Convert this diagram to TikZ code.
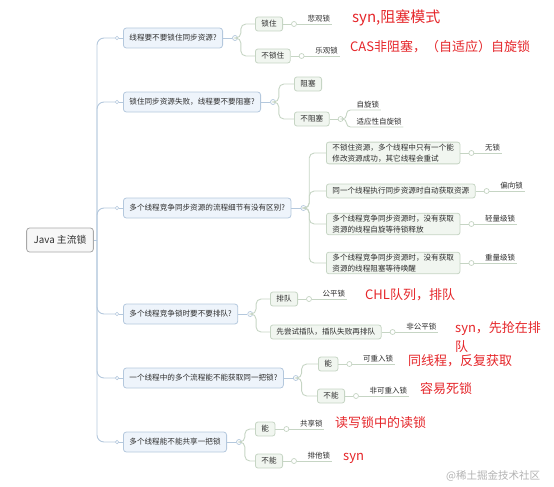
\documentclass[tikz,border=0pt]{standalone}
\usepackage{fontspec}
\setmainfont{Noto Sans CJK SC}
\usetikzlibrary{positioning}
\definecolor{qfill}{HTML}{EEF4FB}
\definecolor{qline}{HTML}{B4C8DD}
\definecolor{afill}{HTML}{F1F6F0}
\definecolor{aline}{HTML}{C6D5C4}
\definecolor{rootline}{HTML}{A8A8A8}
\definecolor{txt}{HTML}{2E2E2E}
\definecolor{notered}{HTML}{E5262A}
\tikzset{
  rootbox/.style={draw=rootline, fill=black!3, rounded corners=3pt, line width=0.8pt,
    minimum height=24pt, inner xsep=7pt, text=txt, font=\fontsize{9.8}{11}\selectfont},
  qbox/.style={draw=qline, fill=qfill, rounded corners=3pt, anchor=west, line width=0.8pt,
    minimum height=20pt, inner xsep=6pt, text=txt, font=\fontsize{7.6}{10}\selectfont},
  abox/.style={draw=aline, fill=afill, rounded corners=2.5pt, anchor=west, line width=0.8pt,
    minimum height=14pt, inner xsep=6pt, inner ysep=2pt, align=left, text=txt,
    font=\fontsize{7.6}{10.5}\selectfont},
  leaf/.style={anchor=south west, inner sep=1.5pt, text=txt, font=\fontsize{7.5}{9}\selectfont},
  tdot/.style={circle, draw=qline, fill=white, inner sep=0pt, minimum size=3.5pt, line width=0.7pt},
  jdot/.style={circle, draw=qline, fill=white, inner sep=0pt, minimum size=5pt, line width=0.7pt},
  kdot/.style={jdot, draw=aline},
  qconn/.style={draw=qline, line width=0.9pt},
  aconn/.style={draw=aline, line width=0.9pt},
  redtext/.style={anchor=west, inner sep=0pt, text=notered, align=left,
    font=\fontsize{13}{19}\selectfont}
}
\begin{document}
\begin{tikzpicture}[x=1pt,y=-1pt]
  \useasboundingbox (0,0) rectangle (554,487);
  % root and trunk
  \node[rootbox] (root) at (60,240) {Java 主流锁};
  \coordinate (trunk) at (97,240);
  \draw[qconn] (root) -- (trunk);

  % questions
  \node[qbox] (q1) at (123,38) {线程要不要锁住同步资源?};
  \node[qbox] (q2) at (123,102) {锁住同步资源失败，线程要不要阻塞?};
  \node[qbox] (q3) at (123,208) {多个线程竞争同步资源的流程细节有没有区别?};
  \node[qbox] (q4) at (123,314) {多个线程竞争锁时要不要排队?};
  \node[qbox] (q5) at (123,378) {一个线程中的多个流程能不能获取同一把锁?};
  \node[qbox] (q6) at (123,442) {多个线程能不能共享一把锁};
  \foreach \i/\y in {1/38,2/102,3/208,4/314,5/378,6/442} {
    \node[tdot] (t\i) at (117,\y) {};
    \draw[qconn, rounded corners=7pt] (trunk) |- (t\i);
    \draw[qconn] (t\i) -- (q\i);
    \node[jdot] (j\i) at ([xshift=12]q\i.east) {};
    \draw[qconn] (q\i) -- (j\i);
  }

  % answers
  \node[abox] (a11) at (255,24) {锁住};
  \node[abox] (a12) at (255,56) {不锁住};
  \node[abox] (a21) at (294,84) {阻塞};
  \node[abox] (a22) at (294,119) {不阻塞};
  \node[abox] (a31) at (326,153) {不锁住资源，多个线程中只有一个能\\修改资源成功，其它线程会重试};
  \node[abox] (a32) at (326,191) {同一个线程执行同步资源时自动获取资源};
  \node[abox] (a33) at (326,224) {多个线程竞争同步资源时，没有获取\\资源的线程自旋等待锁释放};
  \node[abox] (a34) at (326,263) {多个线程竞争同步资源时，没有获取\\资源的线程阻塞等待唤醒};
  \node[abox] (a41) at (270,299) {排队};
  \node[abox] (a42) at (270,332) {先尝试插队，插队失败再排队};
  \node[abox] (a51) at (318,364) {能};
  \node[abox] (a52) at (317,396) {不能};
  \node[abox] (a61) at (255,429) {能};
  \node[abox] (a62) at (255,461) {不能};
  \foreach \p/\c in {1/a11,1/a12,2/a21,2/a22,3/a31,3/a32,3/a33,3/a34,
                     4/a41,4/a42,5/a51,5/a52,6/a61,6/a62}
    \draw[aconn, rounded corners=5pt] (j\p.east) -- ++(3,0) |- (\c.west);

  % lock names
  \foreach \a/\name in {a11/悲观锁,a12/乐观锁,a31/无锁,a32/偏向锁,a33/轻量级锁,a34/重量级锁,
                        a41/公平锁,a42/非公平锁,a51/可重入锁,a52/非可重入锁,a61/共享锁,a62/排他锁} {
    \node[kdot] (k-\a) at ([xshift=11]\a.east) {};
    \draw[aconn] (\a) -- (k-\a);
    \node[leaf] (l-\a) at ([xshift=12]k-\a.center) {\name};
    \draw[aconn] (k-\a) -- (l-\a.south east);
  }
  \node[kdot] (k-a22) at ([xshift=11]a22.east) {};
  \draw[aconn] (a22) -- (k-a22);
  \node[leaf] (l-a22a) at (355,110) {自旋锁};
  \node[leaf] (l-a22b) at (355,127) {适应性自旋锁};
  \draw[aconn, rounded corners=4pt] (k-a22.east) -- ++(3,0) |- (l-a22a.south west) -- (l-a22a.south east);
  \draw[aconn, rounded corners=4pt] (k-a22.east) -- ++(3,0) |- (l-a22b.south west) -- (l-a22b.south east);

  % red notes
  \node[redtext, font=\fontsize{15}{18}\selectfont] (n1) at (352,18) {syn,阻塞模式};
  \node[redtext] (n2) at (350,47) {CAS非阻塞，（自适应）自旋锁};
  \node[redtext] (n3) at (365,295) {CHL队列，排队};
  \node[redtext, anchor=north west] (n4) at (455,321) {syn，先抢在排\\队};
  \node[redtext] (n5) at (408,361) {同线程，反复获取};
  \node[redtext] (n6) at (420,389) {容易死锁};
  \node[redtext] (n7) at (335,423) {读写锁中的读锁};
  \node[redtext] (n8) at (343,458) {syn};

  \node[anchor=west, inner sep=0pt, text=black!30, font=\fontsize{10.5}{12}\selectfont] (wm) at (446,476) {@稀土掘金技术社区};
\end{tikzpicture}
\end{document}
